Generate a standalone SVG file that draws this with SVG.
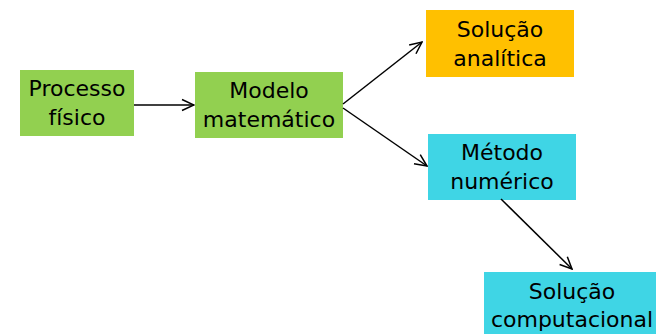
<svg xmlns="http://www.w3.org/2000/svg" width="657" height="334" viewBox="0 0 657 334">
<defs>
<marker id="arr" viewBox="0 0 14 14" refX="13" refY="7" markerWidth="14" markerHeight="14" markerUnits="userSpaceOnUse" orient="auto">
<path d="M1,1.5 L13,7 L1,12.5" fill="none" stroke="#000" stroke-width="1.5"/>
</marker>
<style>
text{font-family:"Comic Sans MS","DejaVu Sans",sans-serif;font-size:22px;fill:#000;text-anchor:middle}
.g{fill:#92D050}.o{fill:#FFC000}.c{fill:#3FD5E5}
.ln{stroke:#000;stroke-width:1.5;fill:none;marker-end:url(#arr)}
</style>
</defs>
<rect width="657" height="334" fill="#fff"/>
<g id="processo">
<rect class="g" x="20" y="70" width="114" height="66"/>
<text x="77" y="96">Processo</text>
<text x="77" y="125">físico</text>
</g>
<g id="modelo">
<rect class="g" x="195" y="72" width="148" height="66"/>
<text x="269" y="98">Modelo</text>
<text x="269" y="127">matemático</text>
</g>
<g id="analitica">
<rect class="o" x="426" y="10" width="148" height="67"/>
<text x="500" y="37">Solução</text>
<text x="500" y="66">analítica</text>
</g>
<g id="metodo">
<rect class="c" x="428" y="134" width="148" height="66"/>
<text x="502" y="160">Método</text>
<text x="502" y="189">numérico</text>
</g>
<g id="computacional">
<rect class="c" x="484" y="272" width="172" height="62"/>
<text x="572" y="299">Solução</text>
<text x="572" y="327">computacional</text>
</g>
<g id="connectors">
<line class="ln" x1="134" y1="105" x2="194" y2="105"/>
<line class="ln" x1="343" y1="104" x2="422" y2="42"/>
<line class="ln" x1="343" y1="108" x2="427" y2="166"/>
<line class="ln" x1="501" y1="199" x2="572" y2="269"/>
</g>
</svg>
